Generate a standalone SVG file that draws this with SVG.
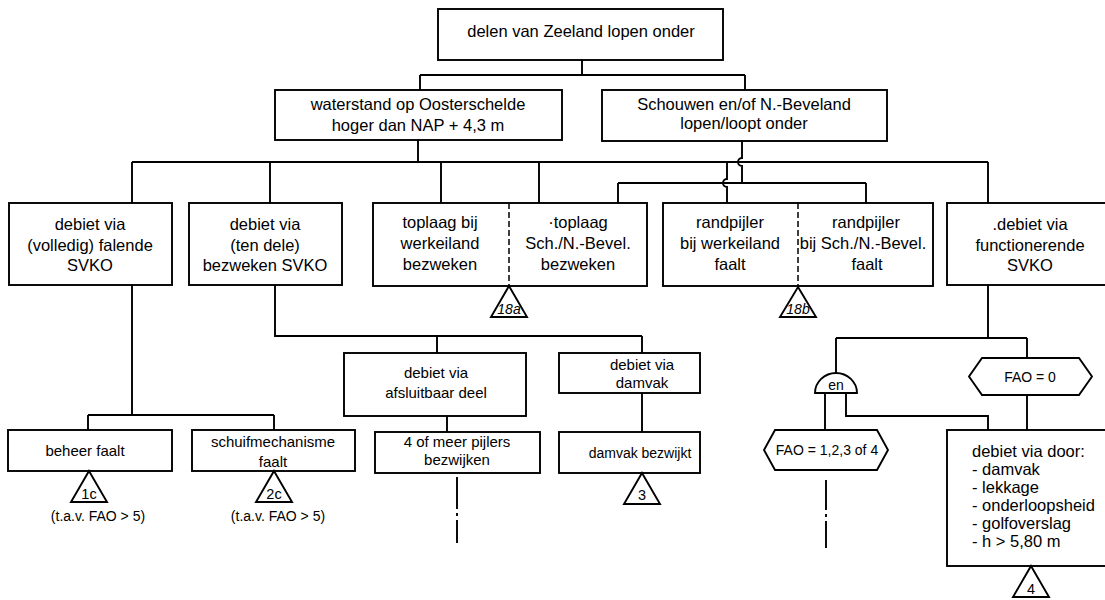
<svg xmlns="http://www.w3.org/2000/svg" width="1105" height="600" viewBox="0 0 1105 600">
  <style>
    .box { fill: #fff; stroke: #000; stroke-width: 1.9; }
    .ln { fill: none; stroke: #000; stroke-width: 1.9; }
    .dash { fill: none; stroke: #000; stroke-width: 1.5; stroke-dasharray: 6 3; }
    .t { font-family: "Liberation Sans", Arial, sans-serif; font-size: 16.5px; fill: #000; text-anchor: middle; }
    .s { font-size: 15px; }
    .xs { font-size: 14px; }
    .tri { font-family: "Liberation Sans", Arial, sans-serif; font-size: 14.5px; fill: #000; text-anchor: middle; }
    .it { font-style: italic; font-size: 14px; }
    .l { text-anchor: start; }
  </style>
  <rect width="1105" height="600" fill="#fff"/>

  <!-- connectors -->
  <g id="connectors">
    <path class="ln" d="M582 60 V75 M420 75 H745 M420 75 V90 M745 75 V90"/>
    <!-- waterstand bus -->
    <path class="ln" d="M418 140 V162 M132 162 H988 M132 162 V203 M270 162 V203 M441 162 V203 M539 162 V203 M988 162 V203"/>
    <!-- Schouwen bus, hopping over the waterstand bus -->
    <path class="ln" d="M742 141 V158 A4 4 0 0 0 742 166 V183 M618 183 H866 M618 183 V203 M866 183 V203"/>
    <path class="ln" d="M727 162 V179 A4 4 0 0 0 727 187 V203"/>
    <!-- left branch -->
    <path class="ln" d="M132 285 V415 M88 415 H274 M88 415 V430 M274 415 V430"/>
    <path class="ln" d="M275 285 V336 H642 M437 336 V353 M642 336 V353 M642 393 V432 M447 416 V432"/>
    <!-- right branch -->
    <path class="ln" d="M988 285 V338 M836 338 H1027 M836 338 V373 M1027 338 V358 M1027 395 V430"/>
    <path class="ln" d="M825 393 V430 M846 393 V416 H988 V430"/>
    <!-- continuation marks -->
    <path class="ln" d="M457 477 V509 M457 513 V516 M457 520 V543"/>
    <path class="ln" d="M826 480 V510 M826 514 V517 M826 521 V548"/>
  </g>

  <g id="n-top">
    <rect class="box" x="438" y="9" width="285" height="51"/>
    <text class="t" x="581" y="37">delen van Zeeland lopen onder</text>
  </g>

  <g id="n-waterstand">
    <rect class="box" x="275" y="90" width="287" height="50"/>
    <text class="t" x="418" y="110">waterstand op Oosterschelde</text>
    <text class="t" x="418" y="131">hoger dan NAP + 4,3 m</text>
  </g>

  <g id="n-schouwen">
    <rect class="box" x="602" y="90" width="285" height="51"/>
    <text class="t" x="744" y="110">Schouwen en/of N.-Beveland</text>
    <text class="t" x="744" y="129">lopen/loopt onder</text>
  </g>

  <g id="n-falende">
    <rect class="box" x="9" y="203" width="163" height="82"/>
    <text class="t" x="90" y="230">debiet via</text>
    <text class="t" x="90" y="251">(volledig) falende</text>
    <text class="t" x="90" y="271">SVKO</text>
  </g>

  <g id="n-bezweken">
    <rect class="box" x="189" y="203" width="153" height="82"/>
    <text class="t" x="265" y="230">debiet via</text>
    <text class="t" x="265" y="251">(ten dele)</text>
    <text class="t" x="265" y="271">bezweken SVKO</text>
  </g>

  <g id="n-toplaag">
    <rect class="box" x="373" y="203" width="274" height="83"/>
    <line class="dash" x1="509" y1="203" x2="509" y2="286"/>
    <text class="t" x="440" y="228">toplaag bij</text>
    <text class="t" x="440" y="249">werkeiland</text>
    <text class="t" x="440" y="270">bezweken</text>
    <text class="t" x="578" y="228">·toplaag</text>
    <text class="t" x="578" y="249">Sch./N.-Bevel.</text>
    <text class="t" x="578" y="270">bezweken</text>
    <polygon class="box" points="509,286 527,317 491,317"/>
    <text class="tri it" x="509" y="314">18a</text>
  </g>

  <g id="n-randpijler">
    <rect class="box" x="663" y="203" width="270" height="83"/>
    <line class="dash" x1="798" y1="203" x2="798" y2="286"/>
    <text class="t" x="730" y="228">randpijler</text>
    <text class="t" x="730" y="249">bij werkeiland</text>
    <text class="t" x="730" y="270">faalt</text>
    <text class="t" x="866" y="228">randpijler</text>
    <text class="t" x="863" y="249">bij Sch./N.-Bevel.</text>
    <text class="t" x="867" y="270">faalt</text>
    <polygon class="box" points="798,287 816,317 780,317"/>
    <text class="tri it" x="798" y="314">18b</text>
  </g>

  <g id="n-functionerende">
    <rect class="box" x="947" y="203" width="165" height="82"/>
    <text class="t" x="1030" y="230">.debiet via</text>
    <text class="t" x="1030" y="251">functionerende</text>
    <text class="t" x="1030" y="271">SVKO</text>
  </g>

  <g id="n-beheer">
    <rect class="box" x="8" y="430" width="164" height="41"/>
    <text class="t s" x="85" y="456">beheer faalt</text>
    <polygon class="box" points="89,471 107,502 71,502"/>
    <text class="tri" x="89" y="499">1c</text>
    <text class="t xs" x="98" y="521">(t.a.v. FAO &gt; 5)</text>
  </g>

  <g id="n-schuif">
    <rect class="box" x="192" y="430" width="163" height="41"/>
    <text class="t s" x="273" y="447">schuifmechanisme</text>
    <text class="t s" x="273" y="467">faalt</text>
    <polygon class="box" points="274,471 292,502 256,502"/>
    <text class="tri" x="274" y="499">2c</text>
    <text class="t xs" x="278" y="521">(t.a.v. FAO &gt; 5)</text>
  </g>

  <g id="n-afsluitbaar">
    <rect class="box" x="344" y="353" width="182" height="63"/>
    <text class="t s" x="436" y="378">debiet via</text>
    <text class="t s" x="436" y="398">afsluitbaar deel</text>
  </g>

  <g id="n-damvak">
    <rect class="box" x="559" y="353" width="141" height="40"/>
    <text class="t s" x="642" y="370">debiet via</text>
    <text class="t s" x="642" y="388">damvak</text>
  </g>

  <g id="n-pijlers">
    <rect class="box" x="375" y="432" width="165" height="41"/>
    <text class="t s" x="457" y="447">4 of meer pijlers</text>
    <text class="t s" x="457" y="465">bezwijken</text>
  </g>

  <g id="n-damvak-bezwijkt">
    <rect class="box" x="559" y="432" width="141" height="41"/>
    <text class="t xs" x="640" y="458">damvak bezwijkt</text>
    <polygon class="box" points="642,473 660,504 624,504"/>
    <text class="tri" x="642" y="500">3</text>
  </g>

  <g id="n-en">
    <path class="box" d="M815 393 A21 20 0 0 1 857 393 Z"/>
    <text class="t xs" x="836" y="390">en</text>
  </g>

  <g id="n-fao0">
    <polygon class="box" points="982,358 1079,358 1092,376.5 1079,395 982,395 969,376.5"/>
    <text class="t xs" x="1030" y="382">FAO = 0</text>
  </g>

  <g id="n-fao1234">
    <polygon class="box" points="775,430 877,430 888,450 877,470 775,470 764,450"/>
    <text class="t xs" x="827" y="455">FAO = 1,2,3 of 4</text>
  </g>

  <g id="n-door">
    <rect class="box" x="947" y="430" width="165" height="136"/>
    <text class="t l" x="972" y="457">debiet via door:</text>
    <text class="t l" x="972" y="475">-  damvak</text>
    <text class="t l" x="972" y="493">-  lekkage</text>
    <text class="t l" x="972" y="511">-  onderloopsheid</text>
    <text class="t l" x="972" y="529">-  golfoverslag</text>
    <text class="t l" x="972" y="547">-  h &gt; 5,80 m</text>
    <polygon class="box" points="1031,566 1049,597 1013,597"/>
    <text class="tri" x="1031" y="594">4</text>
  </g>
</svg>
